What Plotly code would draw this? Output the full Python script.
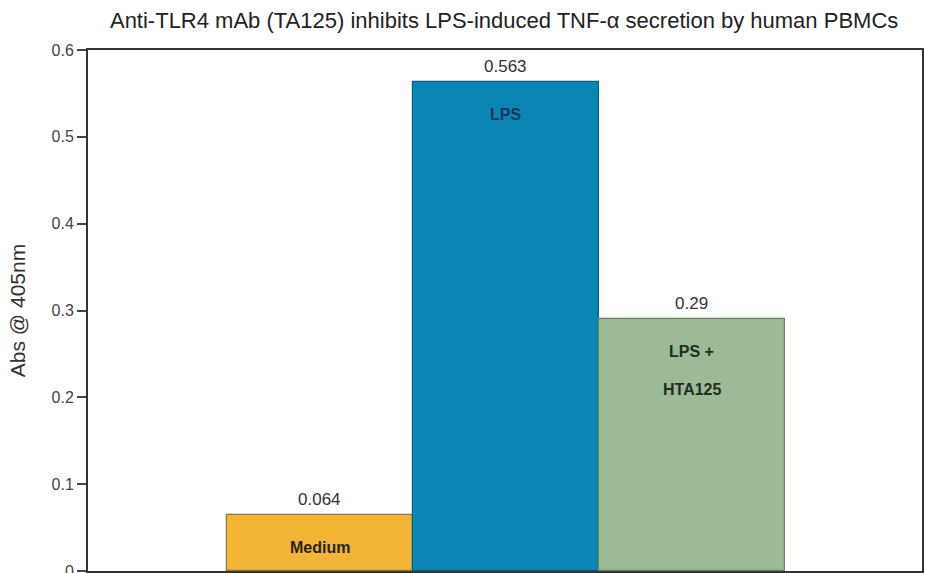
import plotly.graph_objects as go

# Absorbance readings for each treatment group
groups = ["Medium", "LPS", "LPS + HTA125"]
absorbance = [0.064, 0.563, 0.29]
value_labels = ["0.064", "0.563", "0.29"]
inside_labels = [["Medium"], ["LPS"], ["LPS +", "HTA125"]]
fill_colors = ["#F2B535", "#0B86B4", "#9CBA95"]
edge_colors = ["#8C7443", "#0B5E7E", "#6C7F69"]
ink_colors = ["#2A2418", "#17325A", "#1F2E22"]

y_ticks = [0, 0.1, 0.2, 0.3, 0.4, 0.5, 0.6]
y_tick_text = ["0", "0.1", "0.2", "0.3", "0.4", "0.5", "0.6"]

SANS = "Liberation Sans, Arial, sans-serif"

fig = go.Figure()
fig.add_trace(go.Bar(
    x=list(range(len(groups))),
    y=absorbance,
    marker=dict(color=fill_colors, line=dict(color=edge_colors, width=1.2)),
    width=1.0,
    hoverinfo="skip",
))

annotations = []
for i, (v, lab) in enumerate(zip(absorbance, value_labels)):
    annotations.append(dict(
        x=i, y=v, xref="x", yref="y", text=lab, showarrow=False,
        yanchor="bottom", yshift=4,
        font=dict(family=SANS, size=17, color="#333333"),
    ))
    for k, line in enumerate(inside_labels[i]):
        annotations.append(dict(
            x=i, y=v, xref="x", yref="y", text=f"<b>{line}</b>", showarrow=False,
            yanchor="middle", yshift=-32 - 38 * k,
            font=dict(family=SANS, size=16, color=ink_colors[i]),
        ))

fig.update_layout(
    width=925, height=573,
    margin=dict(l=88, r=3, t=50, b=2, autoexpand=False),
    paper_bgcolor="white", plot_bgcolor="white",
    showlegend=False,
    bargap=0,
    title=dict(
        text="Anti-TLR4 mAb (TA125) inhibits LPS-induced TNF-\u03b1 secretion by human PBMCs",
        x=0.545, xanchor="center", y=0.965, yanchor="middle",
        font=dict(family=SANS, size=22, color="#222222"),
    ),
    annotations=annotations,
)
fig.update_xaxes(
    range=[-1.247, 3.237], showticklabels=False, ticks="",
    showgrid=False, zeroline=False, automargin=False,
    showline=True, linecolor="#333333", linewidth=2, mirror=True,
)
fig.update_yaxes(
    range=[0, 0.6], tickvals=y_ticks, ticktext=y_tick_text,
    ticks="outside", ticklen=9, tickwidth=1.5, tickcolor="#444444",
    ticklabeloverflow="allow", automargin=False,
    tickfont=dict(family=SANS, size=16, color="#444444"),
    showgrid=False, zeroline=False,
    showline=True, linecolor="#333333", linewidth=2, mirror=True,
    title=dict(text="Abs @ 405nm", standoff=20,
               font=dict(family=SANS, size=21, color="#333333")),
)

fig.write_html("out.html")
